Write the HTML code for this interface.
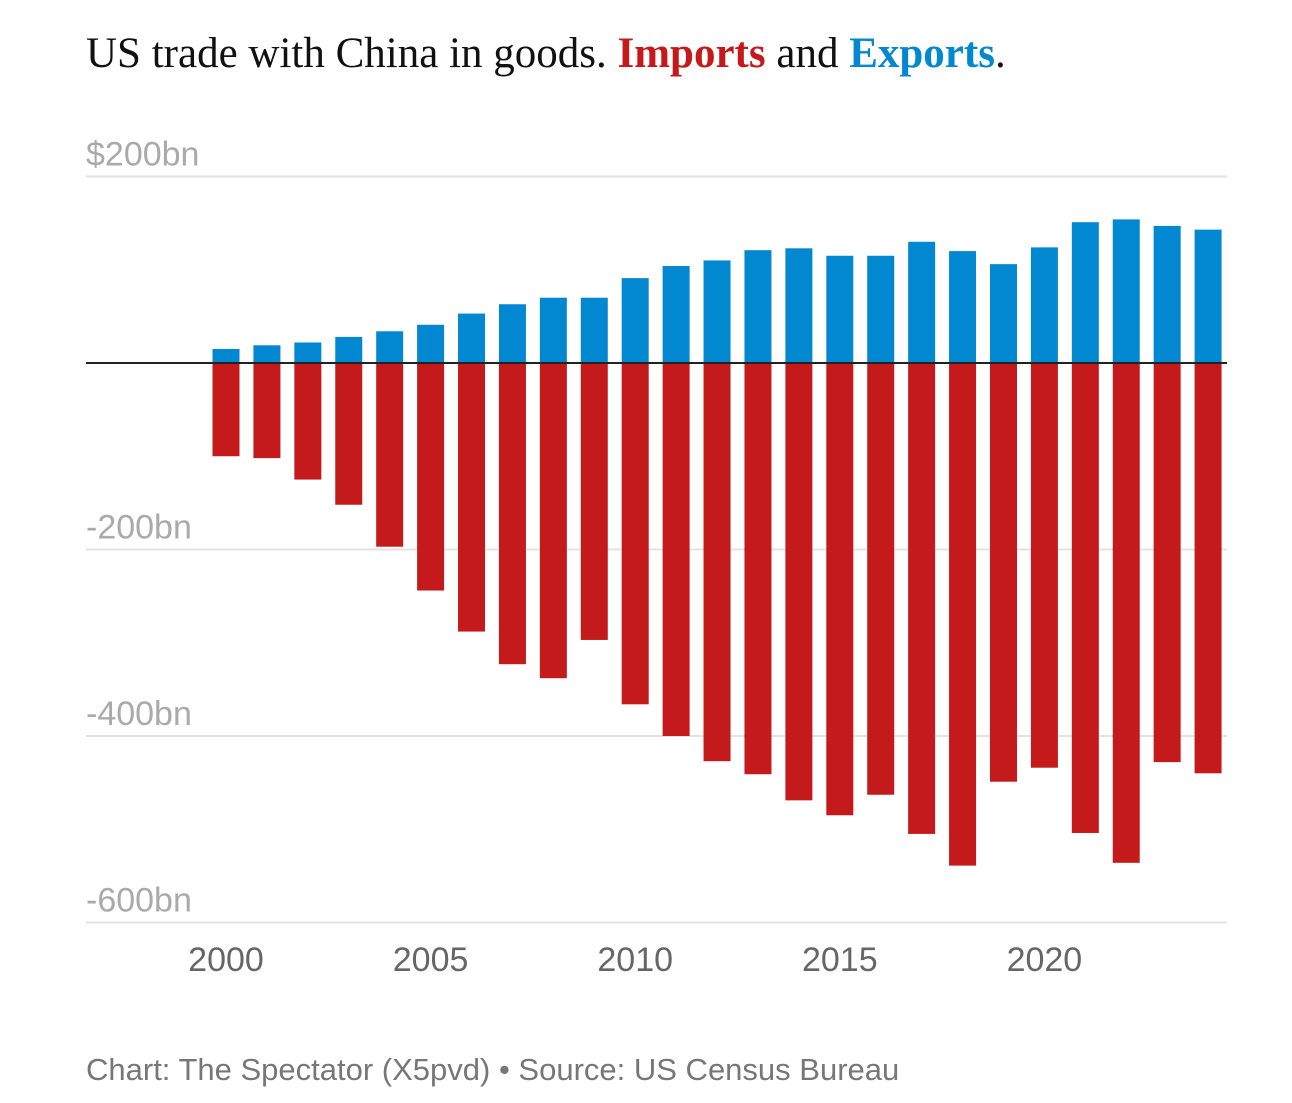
<!DOCTYPE html>
<html><head><meta charset="utf-8"><style>
body{margin:0;background:#fff;width:1292px;height:1103px;overflow:hidden}
svg{display:block}
</style></head><body>
<svg id="chart" width="1292" height="1103">
<text x="86" y="67" font-family="Liberation Serif, serif" font-size="43" fill="#111">US trade with China in goods. <tspan fill="#c41a1c" font-weight="bold">Imports</tspan> and <tspan fill="#0288d1" font-weight="bold">Exports</tspan>.</text>
<g id="grid"></g>
<g id="bars"></g>
<g id="xaxis"></g>
<text x="86" y="1080" font-family="Liberation Sans, sans-serif" font-size="31" fill="#777">Chart: The Spectator (X5pvd) • Source: US Census Bureau</text>
</svg>
<script>
const years=[2000,2001,2002,2003,2004,2005,2006,2007,2008,2009,2010,2011,2012,2013,2014,2015,2016,2017,2018,2019,2020,2021,2022,2023,2024];
const exportsBn=[15,19,22,28,34,41,53,63,70,70,91,104,110,121,123,115,115,130,120,106,124,151,154,147,143];
const importsBn=[100,102,125,152,197,244,288,323,338,297,366,400,427,441,469,485,463,505,539,449,434,504,536,428,440];
const yTicks=[200,0,-200,-400,-600];
const yTickLabels=["$200bn","","-200bn","-400bn","-600bn"];
const xTicks=[2000,2005,2010,2015,2020];
const NS="http://www.w3.org/2000/svg";
const y=v=>363-v*0.9325;
const x=yr=>226+(yr-2000)*40.92;
const bw=27;
const grid=document.getElementById('grid'),bars=document.getElementById('bars'),xa=document.getElementById('xaxis');
function mk(tag,attrs,parent){const e=document.createElementNS(NS,tag);for(const k in attrs)e.setAttribute(k,attrs[k]);parent.appendChild(e);return e;}
yTicks.forEach((t,i)=>{
  if(t!==0){const l=mk('line',{x1:86,x2:1227,y1:y(t),y2:y(t),stroke:'#e3e3e3','stroke-width':2},grid);
  
  }
  if(yTickLabels[i]){const tx=mk('text',{x:86,y:y(t)-11,'font-family':'Liberation Sans, sans-serif','font-size':34,fill:'#aaa'},grid);
  tx.textContent=yTickLabels[i];
  
  }
});
years.forEach((yr,i)=>{
  const e=mk('rect',{x:x(yr)-bw/2,y:y(exportsBn[i]),width:bw,height:y(0)-y(exportsBn[i]),fill:'#0288d1'},bars);
  
  
  const m=mk('rect',{x:x(yr)-bw/2,y:y(0),width:bw,height:y(-importsBn[i])-y(0),fill:'#c41a1c'},bars);
  
  
});
const z=mk('line',{x1:86,x2:1227,y1:y(0),y2:y(0),stroke:'#222','stroke-width':2},bars);


xTicks.forEach(t=>{
  const tx=mk('text',{x:x(t),y:971,'text-anchor':'middle','font-family':'Liberation Sans, sans-serif','font-size':34,fill:'#666'},xa);
  tx.textContent=t;
  
  
});
</script>
</body></html>
